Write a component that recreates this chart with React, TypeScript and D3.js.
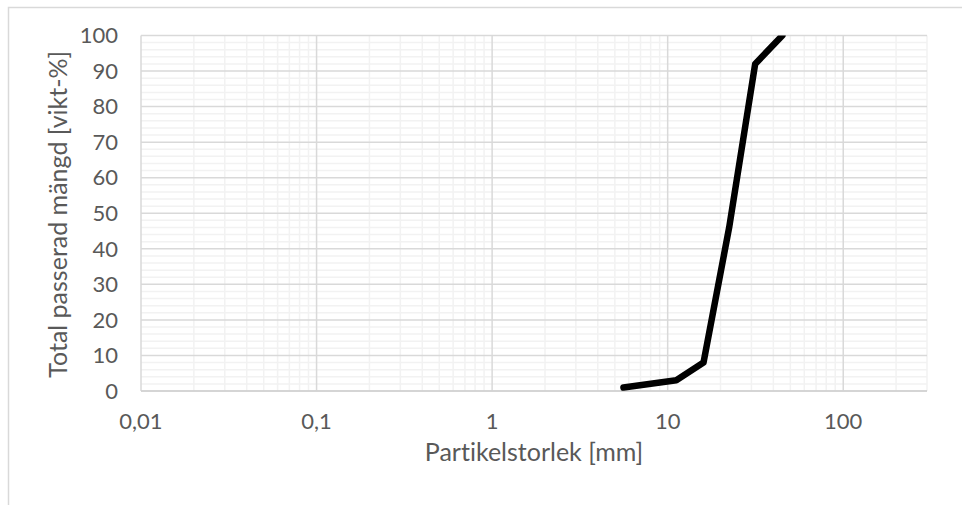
import React from "react";
import * as d3 from "d3";

const sizes = [5.6, 11.2, 16, 22.4, 31.5, 45];
const passed = [1, 3, 8, 46, 92, 100];
const xTickValues = [0.01, 0.1, 1, 10, 100];
const xTickLabels = ["0,01", "0,1", "1", "10", "100"];
const yTickValues = [0, 10, 20, 30, 40, 50, 60, 70, 80, 90, 100];
const xTitle = "Partikelstorlek [mm]";
const yTitle = "Total passerad mängd [vikt-%]";

const W = 962;
const H = 505;
const FONT = "Lato, 'Open Sans', sans-serif";
const TEXT = "#595959";
const txtStyle = { fontVariantLigatures: "none" as const };

export default function App() {
  const x = d3.scaleLog().domain([0.01, 300]).range([141, 927]);
  const y = d3.scaleLinear().domain([0, 100]).range([391, 35.5]);

  const minorX: number[] = [];
  for (let e = -2; e <= 2; e++) {
    for (let m = 2; m <= 9; m++) {
      const v = m * Math.pow(10, e);
      if (v <= 300) minorX.push(v);
    }
  }
  const minorY = d3.range(0, 101, 2).filter((v) => v % 10 !== 0);

  const line = d3
    .line<number>()
    .x((_, i) => x(sizes[i]))
    .y((d) => y(d));

  const [x0, x1] = x.range();
  const [y0, y1] = y.range();

  return (
    <div style={{ position: "absolute", left: 0, top: 0 }}>
      <svg width={W} height={H} style={{ display: "block" }}>
        <rect x={0} y={0} width={W} height={H} fill="#fff" />
        <rect x={8.5} y={7.5} width={2000} height={2000} fill="none" stroke="#d9d9d9" strokeWidth={1.5} />
        <defs>
          <clipPath id="plot">
            <rect x={x0} y={y1} width={x1 - x0} height={y0 - y1} />
          </clipPath>
        </defs>
        {minorY.map((v) => (
          <line key={"my" + v} x1={x0} x2={x1} y1={y(v)} y2={y(v)} stroke="#f2f2f2" strokeWidth={1.5} />
        ))}
        {minorX.map((v) => (
          <line key={"mx" + v} x1={x(v)} x2={x(v)} y1={y0} y2={y1} stroke="#f2f2f2" strokeWidth={1.5} />
        ))}
        {yTickValues.map((v) => (
          <line key={"gy" + v} x1={x0} x2={x1} y1={y(v)} y2={y(v)} stroke="#d9d9d9" strokeWidth={1.5} />
        ))}
        {xTickValues.map((v) => (
          <line key={"gx" + v} x1={x(v)} x2={x(v)} y1={y0} y2={y1} stroke="#d9d9d9" strokeWidth={1.5} />
        ))}
        <line x1={x0} x2={x1} y1={y0} y2={y0} stroke="#d0d0d0" strokeWidth={1.5} />
        <path
          d={line(passed) || ""}
          fill="none"
          stroke="#000"
          strokeWidth={6.5}
          strokeLinejoin="round"
          strokeLinecap="round"
          clipPath="url(#plot)"
        />
        {yTickValues.map((v) => (
          <text key={"ty" + v} x={118} y={y(v)} dy="0.35em" textAnchor="end" fontFamily={FONT} fontSize={22} fill={TEXT} style={txtStyle}>
            {v}
          </text>
        ))}
        {xTickValues.map((v, i) => (
          <text key={"tx" + v} x={x(v)} y={429} textAnchor="middle" fontFamily={FONT} fontSize={22} fill={TEXT} style={txtStyle}>
            {xTickLabels[i]}
          </text>
        ))}
        <text x={(x0 + x1) / 2} y={461} textAnchor="middle" fontFamily={FONT} fontSize={25} fill={TEXT} style={txtStyle}>
          {xTitle}
        </text>
        <text
          transform={`translate(67,${(y0 + y1) / 2 + 1}) rotate(-90)`}
          textAnchor="middle"
          fontFamily={FONT}
          fontSize={25}
          fill={TEXT}
          style={txtStyle}
        >
          {yTitle}
        </text>
      </svg>
    </div>
  );
}
